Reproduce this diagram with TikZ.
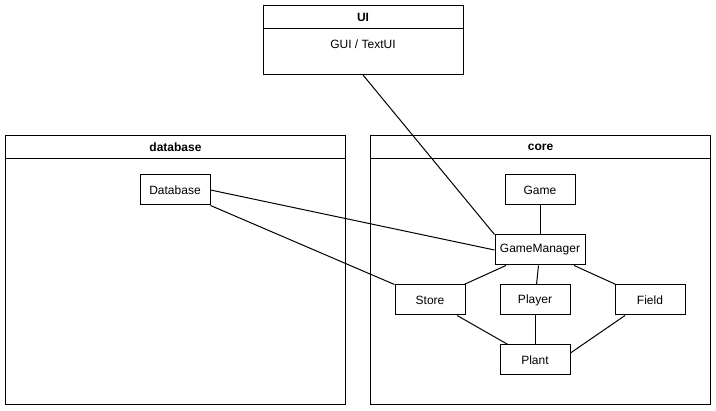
\documentclass[tikz,border=0pt]{standalone}
\usepackage{fontspec}
\setmainfont{Liberation Sans}

\begin{document}
\begin{tikzpicture}[x=1pt, y=-1pt, line width=1pt,
    cls/.style={draw, fill=white, minimum width=70pt, minimum height=30pt,
      inner sep=0pt, font=\fontsize{12}{14}\selectfont},
    title/.style={font=\fontsize{12}{14}\selectfont\bfseries, inner sep=0pt},
    txt/.style={font=\fontsize{12}{14}\selectfont, inner sep=0pt}]
  %tikz  Pacchetti: UI, database, core
    \useasboundingbox (0,0) rectangle (716,411);
    \def\hd{23}
    % pacchetto UI
    \draw (263,6) rectangle (463,75);
    \draw (263,6+\hd) -- (463,6+\hd);
    \node[title] (uititle) at (363,17.5) {UI};
    \node[txt] (uibody) at (363,44) {GUI / TextUI};
    \coordinate (ui) at (363,75);
    % pacchetto database
    \draw (5.5,135.5) rectangle (345.5,405);
    \draw (5.5,135.5+\hd) -- (345.5,135.5+\hd);
    \node[title] (dbtitle) at (175.5,147.5) {database};
    % pacchetto core
    \draw (370.5,135.5) rectangle (710,405);
    \draw (370.5,135.5+\hd) -- (710,135.5+\hd);
    \node[title] (coretitle) at (540.5,147.5) {core};
    % classi
    \node[cls] (db) at (175,190) {Database};
    \node[cls] (game) at (540,190) {Game};
    \node[cls, minimum width=90pt] (gm) at (540,250) {GameManager};
    \node[cls] (store) at (430,300) {Store};
    \node[cls] (player) at (535,300) {Player};
    \node[cls] (field) at (650,300) {Field};
    \node[cls] (plant) at (535,360) {Plant};
    % collegamenti
    \draw (ui) -- (gm.north west);
    \draw (db.east) -- (gm.west);
    \draw (db.south east) -- (store.north west);
    \draw (game) -- (gm);
    \draw (gm) -- (store);
    \draw (gm) -- (player);
    \draw (gm) -- (field);
    \draw (store) -- (plant);
    \draw (player) -- (plant);
    \draw ([xshift=-25pt]field.south) -- ([yshift=7pt]plant.east); %
  \end{tikzpicture}
\end{document}
